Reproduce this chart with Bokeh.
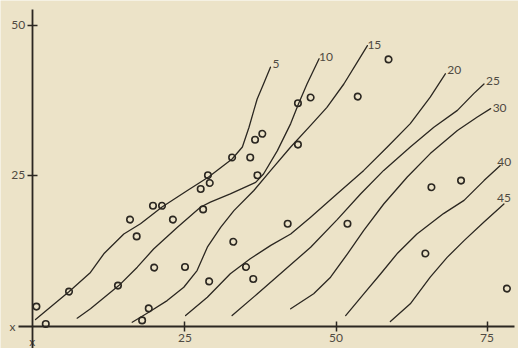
from bokeh.plotting import figure
from bokeh.models import FixedTicker, Range1d
from bokeh.embed import file_html
from bokeh.resources import INLINE
from bokeh.core.properties import value

# ---------------- data ----------------
x_ticks = [25, 50, 75]
y_ticks = [25, 50]

point_x = [0.4, 1.95, 5.8, 13.9, 15.9, 17.0, 19.7, 21.2, 19.9, 19.0, 17.9, 23.0,
           25.0, 29.0, 28.0, 27.6, 28.8, 29.1, 32.8, 35.8, 36.6, 37.8, 37.0, 33.0,
           35.1, 36.3, 43.7, 45.8, 43.7, 53.6, 58.7, 42.0, 51.9, 65.8, 70.7, 64.8, 78.3]
point_y = [3.1, 0.2, 5.6, 6.6, 17.6, 14.8, 19.9, 19.9, 9.6, 2.8, 0.8, 17.6,
           9.7, 7.3, 19.3, 22.7, 25.0, 23.7, 27.95, 27.95, 30.9, 31.9, 25.0, 13.9,
           9.7, 7.7, 37.0, 37.95, 30.1, 38.1, 44.3, 16.9, 16.9, 23.0, 24.1, 11.95, 6.1]

curve_5_x = [0.25, 5.83, 9.35, 11.56, 14.87, 17.63, 21.2, 25.4, 28.9, 32.8, 34.5, 35.6, 36.4, 36.95, 38.0, 39.15]
curve_5_y = [0.95, 5.6, 8.8, 11.9, 15.2, 16.9, 19.7, 22.45, 24.7, 27.7, 29.7, 33.0, 35.8, 37.7, 40.2, 43.0]

curve_10_x = [7.15, 9.35, 14.04, 17.1, 19.8, 23.7, 27.6, 29.2, 32.5, 36.7, 38.0, 40.3, 42.5, 43.8, 45.2, 47.2]
curve_10_y = [1.17, 2.73, 6.6, 9.67, 12.7, 16.3, 19.7, 20.5, 21.9, 23.8, 25.2, 29.1, 33.6, 36.9, 40.2, 44.4]

curve_15_x = [16.26, 19.0, 22.05, 24.8, 27.0, 28.7, 30.9, 33.1, 36.4, 39.2, 42.5, 45.8, 48.5, 51.3, 53.5, 55.2]
curve_15_y = [0.5, 2.17, 4.1, 6.33, 9.1, 13.0, 16.3, 19.1, 22.45, 25.8, 29.7, 33.3, 36.3, 40.2, 43.8, 46.6]

curve_20_x = [25.1, 28.7, 32.5, 35.8, 39.2, 42.5, 45.8, 50.2, 54.6, 58.5, 62.3, 65.6, 68.1]
curve_20_y = [1.6, 4.67, 8.57, 11.07, 13.3, 15.2, 18.0, 21.9, 25.8, 29.7, 33.6, 38.0, 41.9]

curve_25_x = [32.8, 36.95, 41.4, 45.8, 50.2, 54.1, 57.9, 62.3, 66.2, 70.1, 72.8, 74.5]
curve_25_y = [1.6, 5.2, 9.1, 13.0, 17.6, 21.9, 25.8, 29.7, 33.0, 35.8, 38.6, 40.2]

curve_30_x = [42.5, 46.3, 49.1, 51.9, 54.6, 57.9, 61.8, 65.6, 70.1, 73.4, 75.6]
curve_30_y = [2.73, 5.23, 8.0, 11.9, 15.8, 20.2, 24.7, 28.6, 32.45, 34.7, 36.1]

curve_40_x = [51.6, 54.6, 57.4, 60.1, 63.4, 67.8, 71.2, 74.5, 77.2]
curve_40_y = [1.6, 5.23, 8.57, 11.9, 15.2, 18.6, 20.8, 24.1, 26.6]

curve_45_x = [59.0, 62.3, 65.6, 68.4, 71.2, 74.5, 77.8]
curve_45_y = [0.62, 3.57, 8.0, 11.3, 14.1, 17.2, 20.2]

curve_labels = ["5", "10", "15", "20", "25", "30", "40", "45"]

# ---------------- style ----------------
BG = "#ece3c8"
INK = "#2b2721"
TXT = "#4f4a42"
FONT = "Lato"
FS = "12px"

curves = [(curve_5_x, curve_5_y), (curve_10_x, curve_10_y), (curve_15_x, curve_15_y),
          (curve_20_x, curve_20_y), (curve_25_x, curve_25_y), (curve_30_x, curve_30_y),
          (curve_40_x, curve_40_y), (curve_45_x, curve_45_y)]
# label placement relative to curve end (pixels): (x_offset, y_offset, align)
label_style = [(2, -3, "left"), (0, -2, "left"), (0, -1, "left"), (2, -4, "left"),
               (2, -3, "left"), (2, -1, "left"), (-3, -4, "left"), (0, -6, "center")]

p = figure(width=518, height=348, output_backend="svg", toolbar_location=None,
           x_range=Range1d(-5.546, 80.215), y_range=Range1d(-3.883, 54.117),
           min_border=0, background_fill_color=BG, border_fill_color=BG,
           outline_line_color=None)
p.grid.visible = False

for ax, loc, ticks, bounds in ((p.xaxis, -0.2, x_ticks, (-2.57, 79.5)),
                               (p.yaxis, -0.3, y_ticks, (-10, 52.6))):
    ax.fixed_location = loc
    ax.ticker = FixedTicker(ticks=ticks)
    ax.bounds = bounds
    ax.axis_line_color = INK
    ax.axis_line_width = 1.8
    ax.major_tick_line_color = INK
    ax.major_tick_line_width = 1.5
    ax.major_tick_in = 5
    ax.major_tick_out = 5
    ax.minor_tick_line_color = None
    ax.major_label_text_font = FONT
    ax.major_label_text_font_size = FS
    ax.major_label_text_color = TXT
p.xaxis.major_label_standoff = 3
p.yaxis.major_label_standoff = 2

for (cx, cy), lab, (xo, yo, al) in zip(curves, curve_labels, label_style):
    p.line(cx, cy, line_color=INK, line_width=1.3, line_join="round", line_cap="round")
    p.text(x=[cx[-1]], y=[cy[-1]], text=[lab], x_offset=xo, y_offset=yo,
           text_align=al, text_baseline="middle", text_font=value(FONT),
           text_font_size=FS, text_color=TXT)

p.scatter(point_x, point_y, marker="circle", size=6.5, fill_color=None,
          line_color=INK, line_width=1.6)

# origin marks "x" at the left end of the abscissa and below the ordinate
p.text(x=[-2.57], y=[-0.2], text=["x"], x_offset=-3, text_align="right",
       text_baseline="middle", text_font=value(FONT), text_font_size=FS,
       text_color=TXT)
p.text(x=[-0.3], y=[-3.883], text=["x"], y_offset=-7, text_align="center",
       text_baseline="middle", text_font=value(FONT), text_font_size=FS,
       text_color=TXT)

open("out.html", "w").write(file_html(p, INLINE))
